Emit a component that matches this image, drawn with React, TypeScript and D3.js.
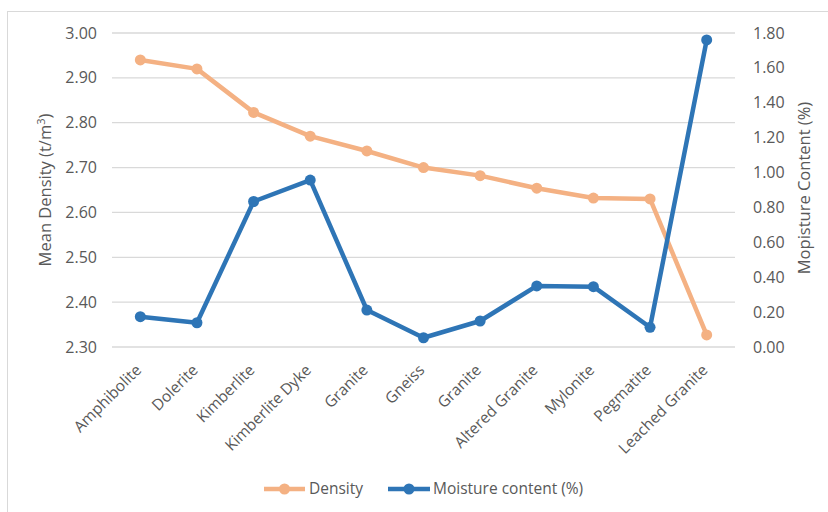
import { scaleBand, scaleLinear, line } from "d3";

const categories = [
  "Amphibolite",
  "Dolerite",
  "Kimberlite",
  "Kimberlite Dyke",
  "Granite",
  "Gneiss",
  "Granite ",
  "Altered Granite",
  "Mylonite",
  "Pegmatite",
  "Leached Granite",
];
const density = [2.94, 2.92, 2.823, 2.77, 2.737, 2.7, 2.682, 2.654, 2.632, 2.63, 2.327];
const moisture = [0.174, 0.139, 0.834, 0.957, 0.212, 0.053, 0.149, 0.35, 0.346, 0.113, 1.76];
const densityTicks = [2.3, 2.4, 2.5, 2.6, 2.7, 2.8, 2.9, 3.0];
const moistureTicks = [0, 0.2, 0.4, 0.6, 0.8, 1.0, 1.2, 1.4, 1.6, 1.8];

const width = 828;
const height = 512;
const margin = { top: 33, left: 112, right: 93, bottom: 165 };
const innerWidth = width - margin.left - margin.right;
const innerHeight = height - margin.top - margin.bottom;

const orange = "#F4B183";
const blue = "#2E75B6";
const textColor = "#595959";
const font = "'Open Sans', sans-serif";

export default function App() {
  const xScale = scaleBand().domain(categories).range([0, innerWidth]);
  const yLeft = scaleLinear().domain([2.3, 3.0]).range([innerHeight, 0]);
  const yRight = scaleLinear().domain([0, 1.8]).range([innerHeight, 0]);
  const cx = (i: number) => (xScale(categories[i]) ?? 0) + xScale.bandwidth() / 2;

  const densityLine = line<number>()
    .x((_, i) => cx(i))
    .y((d) => yLeft(d));
  const moistureLine = line<number>()
    .x((_, i) => cx(i))
    .y((d) => yRight(d));

  return (
    <svg
      width={width}
      height={height}
      style={{ position: "absolute", left: 0, top: 0, background: "#fff" }}
      fontFamily={font}
    >
      <rect x={7.5} y={11.5} width={840} height={520} fill="#fff" stroke="#d9d9d9" />
      <g transform={`translate(${margin.left}, ${margin.top})`}>
        {densityTicks.map((t) => (
          <g key={t} transform={`translate(0, ${yLeft(t)})`}>
            <line x2={innerWidth} stroke="#d9d9d9" strokeWidth={1.3} />
            <text x={-15} dy="0.35em" textAnchor="end" fontSize={16} fill={textColor}>
              {t.toFixed(2)}
            </text>
          </g>
        ))}
        {moistureTicks.map((t) => (
          <text
            key={t}
            x={innerWidth + 18}
            y={yRight(t)}
            dy="0.35em"
            fontSize={16}
            fill={textColor}
          >
            {t.toFixed(2)}
          </text>
        ))}
        {categories.map((c, i) => (
          <text
            key={c}
            transform={`translate(${cx(i) + 2}, ${innerHeight + 24}) rotate(-45)`}
            textAnchor="end"
            fontSize={15.5}
            fill={textColor}
          >
            {c.trim()}
          </text>
        ))}
        <path d={densityLine(density) ?? ""} fill="none" stroke={orange} strokeWidth={4.5} strokeLinejoin="round" />
        {density.map((d, i) => (
          <circle key={i} cx={cx(i)} cy={yLeft(d)} r={5.5} fill={orange} />
        ))}
        <path d={moistureLine(moisture) ?? ""} fill="none" stroke={blue} strokeWidth={4.5} strokeLinejoin="round" />
        {moisture.map((d, i) => (
          <circle key={i} cx={cx(i)} cy={yRight(d)} r={5.5} fill={blue} />
        ))}
      </g>
      <text
        transform={`translate(51, ${margin.top + innerHeight / 2}) rotate(-90)`}
        textAnchor="middle"
        fontSize={16.5}
        fill={textColor}
      >
        Mean Density (t/m<tspan dy={-6} fontSize={11}>3</tspan>
        <tspan dy={6}>)</tspan>
      </text>
      <text
        transform={`translate(810, ${margin.top + 155}) rotate(-90)`}
        textAnchor="middle"
        fontSize={16.5}
        fill={textColor}
      >
        Mopisture Content (%)
      </text>
      <g transform="translate(0, 489)">
        <line x1={264} x2={305} stroke={orange} strokeWidth={4.5} />
        <circle cx={284.5} r={5.5} fill={orange} />
        <text x={309} dy="0.35em" fontSize={15.5} fill={textColor}>Density</text>
        <line x1={388} x2={430} stroke={blue} strokeWidth={4.5} />
        <circle cx={409} r={5.5} fill={blue} />
        <text x={433} dy="0.35em" fontSize={15.5} fill={textColor}>Moisture content (%)</text>
      </g>
    </svg>
  );
}
